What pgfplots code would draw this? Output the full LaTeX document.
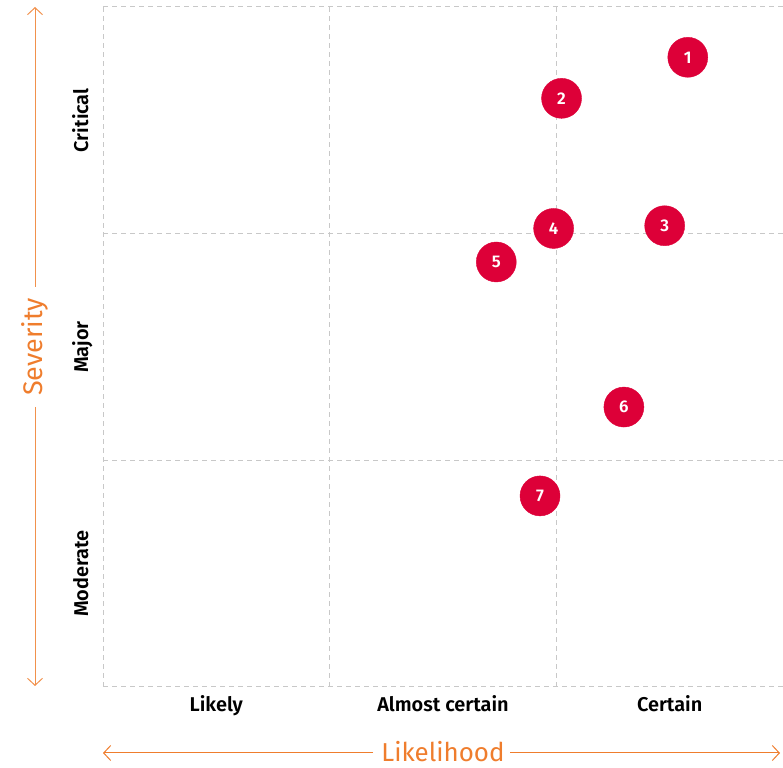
\documentclass[border=0pt]{standalone}
\usepackage{fontspec}
\setmainfont{Fira Sans}[BoldFont={Fira Sans SemiBold}]
\usepackage{pgfplots}
\pgfplotsset{compat=1.18}
\usetikzlibrary{arrows.meta}
\definecolor{riskred}{RGB}{221,0,56}
\definecolor{axorange}{RGB}{239,125,45}
\definecolor{gridgray}{RGB}{200,200,200}

\begin{document}
\begin{tikzpicture}[x=1bp,y=1bp]
\useasboundingbox (0,0) rectangle (783,768);
\begin{axis}[
    at={(103bp,81bp)}, anchor=south west,
    scale only axis, width=680bp, height=680bp,
    xmin=0, xmax=3, ymin=0, ymax=3,
    xtick={0.5,1.5,2.5}, ytick={0.5,1.5,2.5},
    xticklabels={Likely, Almost certain, Certain},
    yticklabels={Moderate, Major, Critical},
    minor xtick={0,1,2,3}, minor ytick={0,1,2,3},
    grid=minor,
    minor grid style={gridgray, line width=1bp, dash pattern=on 5bp off 4bp},
    axis line style={draw=none},
    major tick length=0pt, minor tick length=0pt,
    tick style={draw=none},
    xticklabel style={font=\fontsize{20}{24}\selectfont\bfseries, anchor=base, yshift=-25bp},
    yticklabel style={font=\fontsize{20}{24}\selectfont\bfseries, xshift=-15bp, rotate=90, anchor=base},
    clip=false,
]
% numbered risks: likelihood (x), severity (y)
\addplot[riskred, only marks, mark=*, mark size=20bp,
    mark options={fill=riskred, draw=riskred},
    point meta=explicit symbolic,
    nodes near coords,
    nodes near coords style={anchor=center, text=white, font=\fontsize{17}{20}\selectfont\bfseries}]
table[meta=label] {
x      y      label
2.580  2.778  1
2.023  2.597  2
2.478  2.035  3
1.988  2.023  4
1.735  1.875  5
2.298  1.235  6
1.928  0.843  7
};
\end{axis}

% axis titles with double arrows
\draw[axorange!85, line width=1bp, -{Straight Barb[length=7bp, width=15bp]}] (35,481) -- (35,761);
\draw[axorange!85, line width=1bp, -{Straight Barb[length=7bp, width=15bp]}] (35,361) -- (35,82);
\node[rotate=90, text=axorange, font=\fontsize{27}{30}\selectfont] at (35,421) {Severity};
\draw[axorange, line width=1bp, -{Straight Barb[length=7bp, width=15bp]}] (373,15) -- (103,15);
\draw[axorange, line width=1bp, -{Straight Barb[length=7bp, width=15bp]}] (510,15) -- (780,15);
\node[text=axorange, inner sep=0pt, anchor=base, font=\fontsize{26}{30}\selectfont] at (443,6) {Likelihood};
\end{tikzpicture}
\end{document}
